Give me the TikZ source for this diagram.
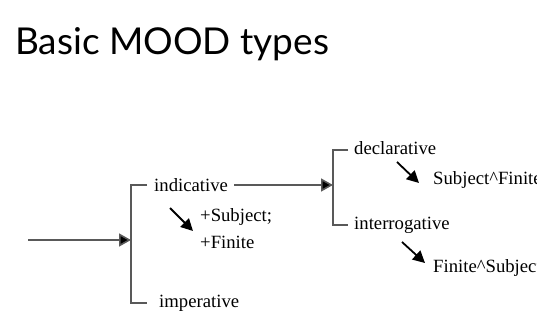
\documentclass[tikz,border=0pt]{standalone}
\usepackage{fontspec}
\setmainfont{Liberation Serif}
\newfontfamily\titlefont{Lato}
\usetikzlibrary{arrows.meta}

\begin{document}
\begin{tikzpicture}[x=1pt,y=-1pt,
	lbl/.style={anchor=west, inner sep=0pt, font=\fontsize{18.7}{22}\selectfont},
	brk/.style={draw=black!65, line width=1.6pt},
	arr/.style={draw=black!65, line width=1.6pt, -{Triangle[length=12pt,width=13pt,fill=black]}},
	sub/.style={draw=black, line width=1.8pt, -{Triangle[length=12pt,width=12pt]}}]
\useasboundingbox (0,0) rectangle (537,329);
\node[anchor=base west, inner sep=0pt, font=\titlefont\fontsize{37}{40}\selectfont] (title) at (15,55) {Basic MOOD types};

% first system
\coordinate (entry) at (28,240);
\coordinate (fork) at (131,240);
\draw[arr] (entry) -- (fork);
\draw[brk] (147,185) -| (131,303) -- (147,303);
\node[lbl] (indic) at (154,185) {indicative};
\node[lbl] (imper) at (159,303) {imperative};
\coordinate (is) at (170,208);
\coordinate (ie) at (193,231);
\draw[sub] (is) -- (ie);
\node[lbl] (plussubj) at (200,217) {+Subject;};
\node[lbl] (plusfin) at (200,242) {+Finite};

% second system
\coordinate (fork2) at (333,185);
\draw[arr] ([xshift=6pt]indic.east) -- (fork2);
\draw[brk] (348,150) -| (333,225) -- (348,225);
\node[lbl] (decl) at (354,148) {declarative};
\node[lbl] (inter) at (354,225) {interrogative};
\coordinate (ds) at (397,162);
\coordinate (de) at (419,183);
\draw[sub] (ds) -- (de);
\node[lbl] (sf) at (433,180) {Subject\textasciicircum Finite};
\coordinate (qs) at (402,242);
\coordinate (qe) at (425,263);
\draw[sub] (qs) -- (qe);
\node[lbl] (fs) at (433,268) {Finite\textasciicircum Subject};
\end{tikzpicture}
\end{document}
